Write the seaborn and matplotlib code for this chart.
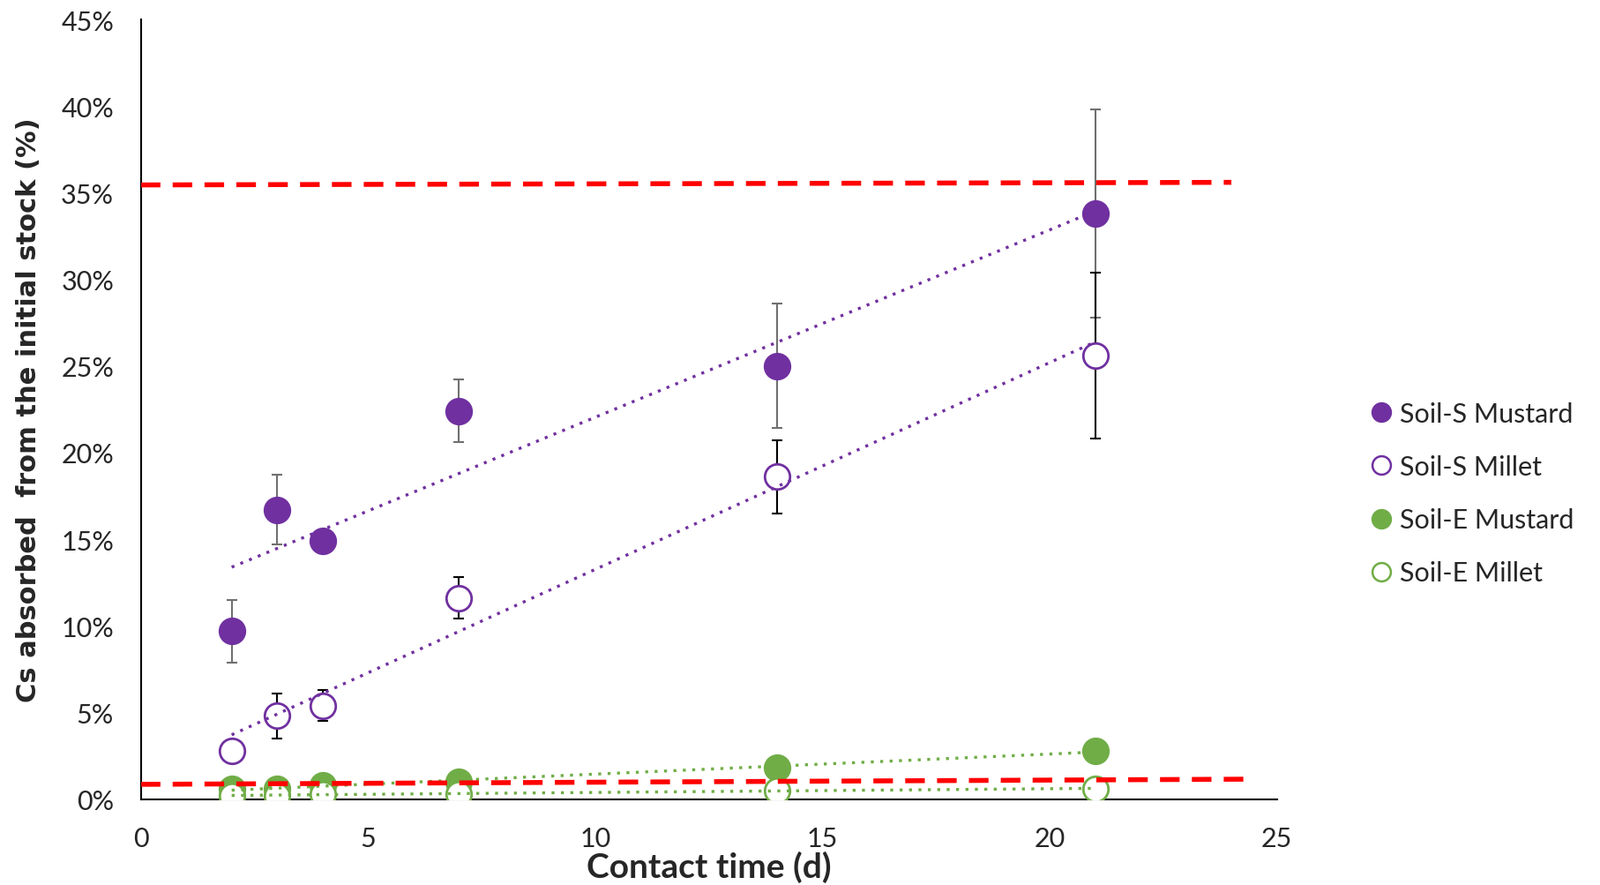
import numpy as np
import pandas as pd
import seaborn as sns
import matplotlib.pyplot as plt
from matplotlib.ticker import PercentFormatter
from matplotlib.lines import Line2D

days = [2, 3, 4, 7, 14, 21]

s_mustard = [9.7, 16.7, 14.9, 22.4, 25.0, 33.8]
s_mustard_err = [1.8, 2.0, 0.0, 1.8, 3.6, 6.0]
s_millet = [2.8, 4.8, 5.4, 11.6, 18.6, 25.6]
s_millet_err = [0.0, 1.3, 0.9, 1.2, 2.1, 4.8]
e_mustard = [0.6, 0.6, 0.8, 1.0, 1.8, 2.8]
e_millet = [0.2, 0.2, 0.3, 0.3, 0.5, 0.6]

# red reference lines (start/end)
upper_ref_x = [0, 24.0]
upper_ref_y = [35.45, 35.6]
lower_ref_x = [0, 24.45]
lower_ref_y = [0.85, 1.15]

purple = "#7030A0"
green = "#70AD47"

sns.set_style("white")
plt.rcParams['font.family'] = ['Lato', 'DejaVu Sans']

fig = plt.figure(figsize=(18.14, 10.04), dpi=100)
ax = fig.add_axes([0.088, 0.097, 0.71, 0.88])

series = [
    ("Soil-S Mustard", s_mustard, s_mustard_err, purple, True, "#707070"),
    ("Soil-S Millet", s_millet, s_millet_err, purple, False, "black"),
    ("Soil-E Mustard", e_mustard, None, green, True, None),
    ("Soil-E Millet", e_millet, None, green, False, None),
]

handles = []
for name, vals, err, col, filled, ecol in series:
    df = pd.DataFrame({"day": days, "val": vals})
    if err is not None:
        ax.errorbar(days, vals, yerr=err, fmt="none", ecolor=ecol, elinewidth=1.5,
                    capsize=4, capthick=1.5, zorder=3)
    sns.scatterplot(data=df, x="day", y="val", ax=ax, s=420,
                    color=col if filled else "white", edgecolor=col,
                    linewidth=2, zorder=4)
    sns.regplot(data=df, x="day", y="val", ax=ax, scatter=False, ci=None,
                line_kws=dict(color=col, linestyle=(0, (1, 2.2)), lw=2.4, zorder=5))
    handles.append(Line2D([], [], marker="o", linestyle="none", markersize=15,
                          markerfacecolor=col if filled else "white",
                          markeredgecolor=col, markeredgewidth=1.8, label=name))

ax.plot(upper_ref_x, upper_ref_y, color="red", lw=4, dashes=(4, 2.5), zorder=6)
ax.plot(lower_ref_x, lower_ref_y, color="red", lw=4, dashes=(4, 2.5), zorder=6)

ax.set_xlim(0, 25)
ax.set_ylim(0, 45)
ax.set_xticks(range(0, 26, 5))
ax.set_yticks(range(0, 46, 5))
ax.yaxis.set_major_formatter(PercentFormatter(decimals=0))
ax.tick_params(labelsize=22, length=0)
ax.tick_params(axis="y", pad=22)
ax.tick_params(axis="x", pad=22)
for s in ["top", "right"]:
    ax.spines[s].set_visible(False)
for s in ["left", "bottom"]:
    ax.spines[s].set_color("black")
    ax.spines[s].set_linewidth(1.5)

ax.set_xlabel("Contact time (d)", fontsize=28, fontweight="bold", labelpad=0)
ax.set_ylabel("Cs absorbed  from the initial stock (%)", fontsize=22,
              fontweight="bold", labelpad=16, family=["DejaVu Sans"])

fig.legend(handles=handles, loc="center left", bbox_to_anchor=(0.838, 0.442),
           frameon=False, fontsize=22, handletextpad=0.1, labelspacing=1.05,
           handlelength=1.2)

fig.savefig("out.png", dpi=100)
